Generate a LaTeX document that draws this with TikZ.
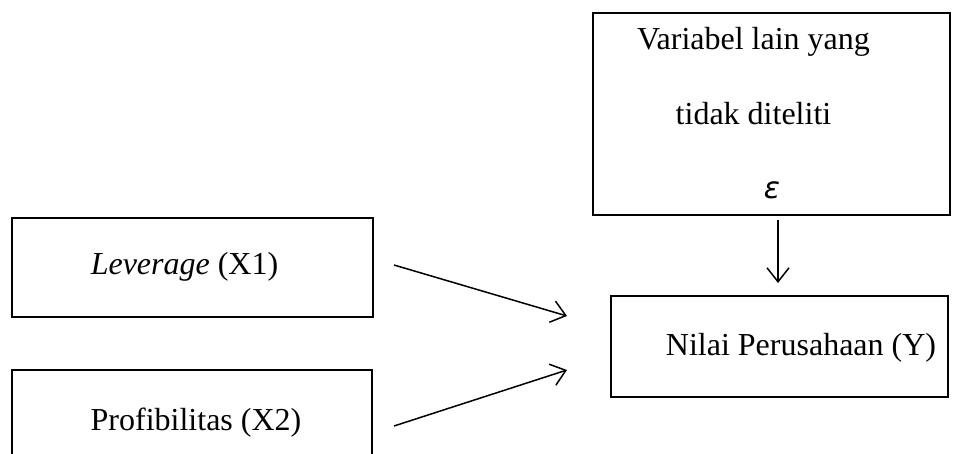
\documentclass[tikz,border=0pt]{standalone}
\usepackage{fontspec}
\setmainfont{Liberation Serif}
\newfontfamily\epsfont{DejaVu Sans}
\usetikzlibrary{arrows.meta}
\begin{document}
\begin{tikzpicture}[x=1pt,y=-1pt,
  box/.style={draw,line width=1.5pt,rectangle,inner sep=0pt},
  lbl/.style={font=\fontsize{32}{38}\selectfont,inner sep=0pt,anchor=base},
  arr/.style={line width=1.5pt,-{Straight Barb[length=14pt,width=22pt,line width=1.5pt]}}]
\useasboundingbox (0,0) rectangle (960,454);
\clip (0,0) rectangle (960,454);
% boxes
\node[box,minimum width=357pt,minimum height=202pt] (other) at (771.5,114) {};
\node[box,minimum width=361pt,minimum height=99pt] (lev) at (192.5,267.5) {};
\node[box,minimum width=360pt,minimum height=120pt] (prof) at (192,430) {};
\node[box,minimum width=337pt,minimum height=101pt] (nilai) at (779.5,346.5) {};
% texts
\node[lbl] (t1) at (753.5,50) {Variabel lain yang};
\node[lbl] (t2) at (753.5,125) {tidak diteliti};
\node[font=\epsfont\itshape\fontsize{30}{36}\selectfont,inner sep=0pt,anchor=base] (eps) at (772,199) {ε};
\node[lbl] (tlev) at (184.5,274) {\textit{Leverage} (X1)};
\node[lbl] (tprof) at (196,430) {Profibilitas (X2)};
\node[lbl] (tnilai) at (801,355) {Nilai Perusahaan (Y)};
% connector ends
\coordinate (a1s) at (394,265);
\coordinate (a1e) at (567,316);
\coordinate (a2s) at (394,426);
\coordinate (a2e) at (567,370);
\coordinate (a3s) at (778,220);
\coordinate (a3e) at (778,283);
\draw[arr] (a1s) -- (a1e);
\draw[arr] (a2s) -- (a2e);
\draw[arr] (a3s) -- (a3e);
\end{tikzpicture}
\end{document}
